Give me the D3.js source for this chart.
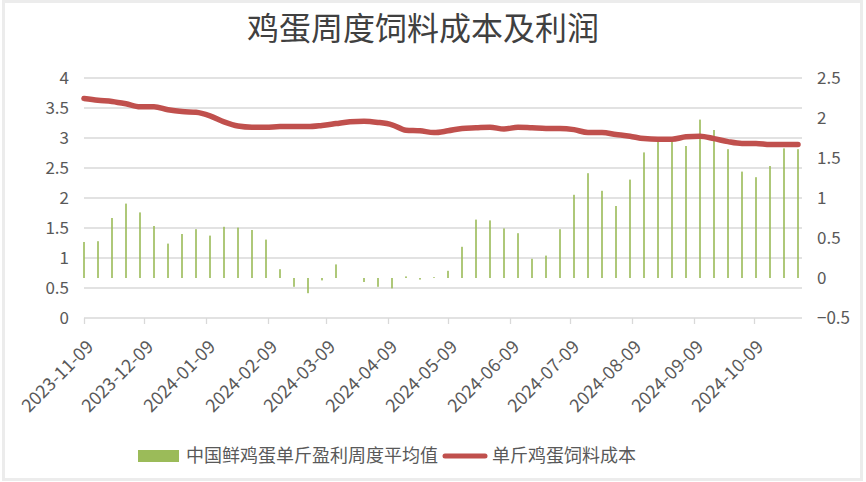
<!DOCTYPE html>
<html><head><meta charset="utf-8">
<script src="https://cdn.jsdelivr.net/npm/d3@7"></script>
<style>
html,body{margin:0;padding:0;background:#fff;}
svg{display:block;}
text{font-family:"Noto Sans CJK SC","Noto Sans",sans-serif;}
</style></head>
<body><svg id="c" width="866" height="482"></svg>
<script>
const title = "鸡蛋周度饲料成本及利润";
const seriesNames = ["中国鲜鸡蛋单斤盈利周度平均值", "单斤鸡蛋饲料成本"];
const dates = ["2023-11-09","2023-11-16","2023-11-23","2023-11-30","2023-12-07","2023-12-14","2023-12-21","2023-12-28",
"2024-01-04","2024-01-11","2024-01-18","2024-01-25","2024-02-01","2024-02-08","2024-02-15","2024-02-22","2024-02-29",
"2024-03-07","2024-03-14","2024-03-21","2024-03-28","2024-04-04","2024-04-11","2024-04-18","2024-04-25",
"2024-05-02","2024-05-09","2024-05-16","2024-05-23","2024-05-30","2024-06-06","2024-06-13","2024-06-20","2024-06-27",
"2024-07-04","2024-07-11","2024-07-18","2024-07-25","2024-08-01","2024-08-08","2024-08-15","2024-08-22","2024-08-29",
"2024-09-05","2024-09-12","2024-09-19","2024-09-26","2024-10-03","2024-10-10","2024-10-17","2024-10-24","2024-10-31"];
const profit = [0.45,0.46,0.75,0.93,0.82,0.65,0.43,0.55,0.61,0.53,
0.64,0.63,0.60,0.48,0.11,-0.11,-0.19,-0.03,0.17,0,
-0.05,-0.11,-0.13,0.02,-0.02,0.01,0.09,0.39,0.73,0.72,
0.62,0.56,0.24,0.28,0.61,1.04,1.31,1.09,0.90,1.23,
1.57,1.71,1.72,1.65,1.98,1.85,1.61,1.33,1.26,1.40,
1.62,1.61];
const cost = [3.66,3.63,3.61,3.57,3.52,3.52,3.47,3.44,3.43,3.37,
3.27,3.20,3.18,3.18,3.19,3.19,3.19,3.21,3.24,3.27,
3.28,3.26,3.22,3.13,3.12,3.09,3.12,3.16,3.17,3.18,
3.15,3.18,3.17,3.16,3.16,3.14,3.09,3.09,3.06,3.03,
2.99,2.98,2.98,3.02,3.03,2.99,2.94,2.91,2.91,2.89,
2.89,2.89];
const xTickLabels = ["2023-11-09","2023-12-09","2024-01-09","2024-02-09","2024-03-09","2024-04-09",
"2024-05-09","2024-06-09","2024-07-09","2024-08-09","2024-09-09","2024-10-09"];
const leftTicks = [0,0.5,1,1.5,2,2.5,3,3.5,4];
const rightTicks = [-0.5,0,0.5,1,1.5,2,2.5];
const xDomain = ["2023-11-09","2024-11-02"];

const parse = d3.timeParse("%Y-%m-%d");
const svg = d3.select("#c");
const L = 84, R = 802, T = 78, B = 318;

svg.append("rect").attr("x",3.5).attr("y",1.5).attr("width",858).attr("height",478)
  .attr("fill","#fff").attr("stroke","#ececec").attr("stroke-width",3);

const x = d3.scaleTime().domain(xDomain.map(parse)).range([L,R]);
const yL = d3.scaleLinear().domain([0,4]).range([B,T]);
const yR = d3.scaleLinear().domain([-0.5,2.5]).range([B,T]);

// gridlines
svg.append("g").selectAll("line").data(leftTicks.filter(d=>d>0)).join("line")
  .attr("x1",L).attr("x2",R).attr("y1",d=>yL(d)).attr("y2",d=>yL(d))
  .attr("stroke","#d9d9d9").attr("stroke-width",1.3);

// left axis
const gl = svg.append("g").attr("transform",`translate(${L-12},0)`)
  .call(d3.axisLeft(yL).tickValues(leftTicks).tickSize(0).tickFormat(d3.format("")));
gl.select(".domain").remove();
gl.selectAll("text").attr("font-size",17).attr("fill","#595959").attr("dy","0.35em");

// right axis
const gr = svg.append("g").attr("transform",`translate(${R+12},0)`)
  .call(d3.axisRight(yR).tickValues(rightTicks).tickSize(0).tickFormat(d3.format("")));
gr.select(".domain").remove();
gr.selectAll("text").attr("font-size",17).attr("fill","#595959").attr("dy","0.35em");

// x axis
const gx = svg.append("g").attr("transform",`translate(0,${B})`)
  .call(d3.axisBottom(x).tickValues(xTickLabels.map(parse)).tickSize(6).tickFormat(d3.timeFormat("%Y-%m-%d")));
gx.select(".domain").attr("stroke","#d9d9d9").attr("stroke-width",1.3).attr("d",`M${L},0H${R}`);
gx.selectAll(".tick line").attr("stroke","#d9d9d9").attr("stroke-width",1.3);
gx.selectAll("text").attr("font-size",18).attr("fill","#595959")
  .attr("text-anchor","end").attr("dy",0).attr("y",0)
  .attr("transform","translate(10,30) rotate(-45)");

// bars
svg.append("g").selectAll("rect").data(dates).join("rect")
  .attr("x",(d)=>x(parse(d))-0.8).attr("width",1.6)
  .attr("y",(d,i)=>Math.min(yR(profit[i]),yR(0)))
  .attr("height",(d,i)=>Math.abs(yR(profit[i])-yR(0)))
  .attr("fill","#9bbb59");

// line
const line = d3.line().x((d,i)=>x(parse(dates[i]))).y(d=>yL(d)).curve(d3.curveMonotoneX);
svg.append("path").datum(cost).attr("d",line).attr("fill","none")
  .attr("stroke","#c0504d").attr("stroke-width",5.5).attr("stroke-linejoin","round").attr("stroke-linecap","round");

// title
svg.append("text").attr("x",423).attr("y",40).attr("text-anchor","middle")
  .attr("font-size",32).attr("fill","#404040").text(title);

// legend
const lg = svg.append("g");
lg.append("rect").attr("x",138).attr("y",450).attr("width",41).attr("height",12).attr("fill","#9bbb59");
lg.append("text").attr("x",186).attr("y",462).attr("font-size",18).attr("fill","#595959").text(seriesNames[0]);
lg.append("line").attr("x1",445).attr("x2",485).attr("y1",456).attr("y2",456)
  .attr("stroke","#c0504d").attr("stroke-width",5).attr("stroke-linecap","round");
lg.append("text").attr("x",492).attr("y",462).attr("font-size",18).attr("fill","#595959").text(seriesNames[1]);
</script></body></html>
